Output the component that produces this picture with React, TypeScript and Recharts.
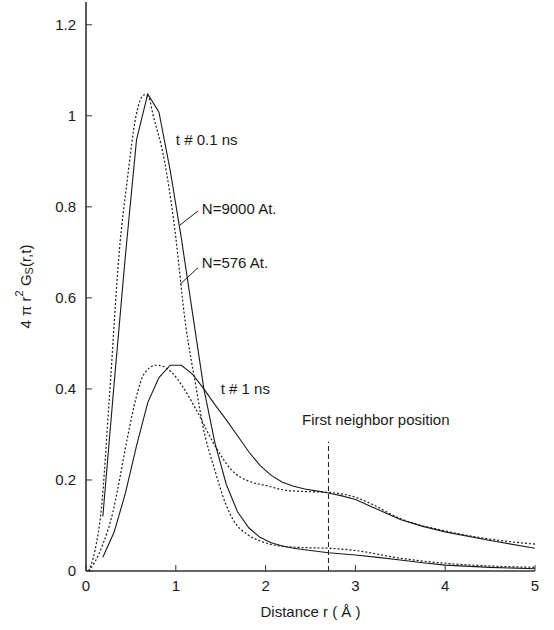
import { LineChart, Line, XAxis, YAxis, ReferenceLine, ReferenceDot } from 'recharts';

const FONT = '"Liberation Sans", Arial, Helvetica, sans-serif';

// t # 0.1 ns, N=9000 At. (solid)
const FAST_BIG_R = [0.1875, 0.3125, 0.4375, 0.5625, 0.6875, 0.8125, 0.9375, 1.0625, 1.1875, 1.3125, 1.4375, 1.5625, 1.6875, 1.8125, 1.9375, 2.0625, 2.1875, 2.3125, 2.5, 2.7, 3.0, 3.25, 3.5, 3.75, 4.0, 4.5, 5.0];
const FAST_BIG_G = [0.12, 0.41, 0.69, 0.947, 1.048, 1.008, 0.88, 0.73, 0.565, 0.4, 0.28, 0.19, 0.13, 0.095, 0.074, 0.062, 0.055, 0.05, 0.045, 0.04, 0.035, 0.03, 0.024, 0.018, 0.013, 0.008, 0.005];

// t # 0.1 ns, N=576 At. (dotted)
const FAST_SMALL_R = [0.03, 0.1, 0.17, 0.26, 0.37, 0.46, 0.557, 0.65, 0.7, 0.743, 0.872, 0.983, 1.11, 1.22, 1.3, 1.44, 1.55, 1.64, 1.8, 1.94, 2.2, 2.5, 2.7, 3.0, 3.5, 4.0, 4.5, 5.0];
const FAST_SMALL_G = [0, 0.045, 0.135, 0.38, 0.7, 0.86, 1.0, 1.046, 1.04, 1.005, 0.903, 0.76, 0.54, 0.41, 0.32, 0.218, 0.15, 0.112, 0.08, 0.066, 0.054, 0.051, 0.05, 0.045, 0.028, 0.017, 0.011, 0.008];

// t # 1 ns, N=9000 At. (solid)
const SLOW_BIG_R = [0.1875, 0.3125, 0.4375, 0.5625, 0.6875, 0.8125, 0.9375, 1.0625, 1.1875, 1.3125, 1.4375, 1.5625, 1.6875, 1.8125, 1.9375, 2.0625, 2.1875, 2.3125, 2.4375, 2.5625, 2.6875, 2.85, 3.0, 3.25, 3.5, 3.75, 4.0, 4.5, 5.0];
const SLOW_BIG_G = [0.03, 0.085, 0.17, 0.275, 0.37, 0.425, 0.452, 0.452, 0.432, 0.4, 0.365, 0.332, 0.297, 0.262, 0.232, 0.21, 0.195, 0.186, 0.18, 0.176, 0.172, 0.165, 0.157, 0.135, 0.113, 0.098, 0.086, 0.067, 0.05];

// t # 1 ns, N=576 At. (dotted)
const SLOW_SMALL_R = [0.03, 0.1, 0.19, 0.3, 0.353, 0.464, 0.557, 0.65, 0.78, 0.85, 0.947, 1.077, 1.225, 1.42, 1.62, 1.83, 2.0, 2.2, 2.38, 2.68, 3.0, 3.16, 3.5, 4.0, 4.5, 5.0];
const SLOW_SMALL_G = [0, 0.02, 0.06, 0.13, 0.18, 0.295, 0.38, 0.434, 0.452, 0.45, 0.438, 0.405, 0.355, 0.281, 0.222, 0.196, 0.188, 0.178, 0.175, 0.173, 0.162, 0.149, 0.115, 0.088, 0.07, 0.059];

const X_TICKS = [0, 1, 2, 3, 4, 5];
const Y_TICKS = [0, 0.2, 0.4, 0.6, 0.8, 1, 1.2];

const NOTE_TEXT = ['t # 0.1 ns', 'N=9000 At.', 'N=576 At.', 't # 1 ns', 'First neighbor position'];
const NOTE_X = [1.0, 1.29, 1.29, 1.5, 2.405];
const NOTE_Y = [0.947, 0.797, 0.677, 0.402, 0.332];

const NEIGHBOR_R = 2.7;
const NEIGHBOR_TOP = 0.284;

const toPoints = (rs: number[], gs: number[]) => rs.map((r, i) => ({ r, g: gs[i] }));

const fastBig = toPoints(FAST_BIG_R, FAST_BIG_G);
const fastSmall = toPoints(FAST_SMALL_R, FAST_SMALL_G);
const slowBig = toPoints(SLOW_BIG_R, SLOW_BIG_G);
const slowSmall = toPoints(SLOW_SMALL_R, SLOW_SMALL_G);

const INK = '#1a1a1a';
const FRAME = '#333';

function YTitle(props: any) {
  const vb = props.viewBox || { x: 0, y: 0, width: 86, height: 569 };
  const cx = vb.x + 25;
  const cy = vb.y + vb.height / 2;
  return (
    <text
      x={cx}
      y={cy}
      transform={`rotate(-90, ${cx}, ${cy})`}
      textAnchor="middle"
      dominantBaseline="central"
      fontFamily={FONT}
      fontSize={15}
      fill={INK}
    >
      <tspan>4 π r</tspan>
      <tspan dy={-6} fontSize={11}>2</tspan>
      <tspan dy={6}> G</tspan>
      <tspan dy={4} fontSize={11}>S</tspan>
      <tspan dy={-4}>(r,t)</tspan>
    </text>
  );
}

function XTitle(props: any) {
  const vb = props.viewBox || { x: 86, y: 571, width: 449, height: 59 };
  return (
    <text
      x={vb.x + vb.width / 2}
      y={vb.y + 46}
      textAnchor="middle"
      fontFamily={FONT}
      fontSize={15}
      fill={INK}
    >
      Distance r ( Å )
    </text>
  );
}

const noteShape = (text: string) => (p: any) => (
  <text x={p.cx} y={p.cy} dominantBaseline="central" fontFamily={FONT} fontSize={15} fill={INK}>
    {text}
  </text>
);

export default function App() {
  const tickStyle = { fill: INK, fontSize: 15, fontFamily: FONT };
  return (
    <div style={{ position: 'absolute', left: 0, top: 0, width: 554, height: 630, background: '#fff' }}>
      <LineChart width={554} height={630} margin={{ top: 2, right: 19, bottom: 0, left: 0 }}>
        <XAxis
          dataKey="r"
          type="number"
          domain={[0, 5]}
          ticks={X_TICKS}
          height={59}
          tickSize={-6}
          tickMargin={15}
          tick={tickStyle}
          tickFormatter={(v: number) => String(v)}
          axisLine={{ stroke: FRAME, strokeWidth: 1.6 }}
          tickLine={{ stroke: FRAME }}
          allowDataOverflow
          label={{ content: XTitle }}
        />
        <XAxis
          xAxisId="top"
          orientation="top"
          type="number"
          domain={[0, 5]}
          ticks={X_TICKS}
          height={0}
          tickSize={-6}
          tick={false}
          axisLine={{ stroke: FRAME, strokeWidth: 1.6 }}
          tickLine={{ stroke: FRAME }}
          allowDataOverflow
        />
        <YAxis
          type="number"
          domain={[0, 1.25]}
          ticks={Y_TICKS}
          width={86}
          tickSize={-6}
          tickMargin={16}
          tick={tickStyle}
          tickFormatter={(v: number) => String(v)}
          axisLine={{ stroke: FRAME, strokeWidth: 1.6 }}
          tickLine={{ stroke: FRAME }}
          allowDataOverflow
          label={{ content: YTitle }}
        />
        <YAxis
          yAxisId="right"
          orientation="right"
          type="number"
          domain={[0, 1.25]}
          ticks={Y_TICKS}
          width={0}
          tickSize={-6}
          tick={false}
          axisLine={{ stroke: FRAME, strokeWidth: 1.6 }}
          tickLine={{ stroke: FRAME }}
          allowDataOverflow
        />

        <Line data={fastSmall} dataKey="g" type="monotone" stroke={INK} strokeWidth={1.2} strokeDasharray="2 2" dot={false} activeDot={false} isAnimationActive={false} />
        <Line data={slowSmall} dataKey="g" type="monotone" stroke={INK} strokeWidth={1.2} strokeDasharray="2 2" dot={false} activeDot={false} isAnimationActive={false} />
        <Line data={fastBig} dataKey="g" type="linear" stroke={INK} strokeWidth={1.1} dot={false} activeDot={false} isAnimationActive={false} />
        <Line data={slowBig} dataKey="g" type="linear" stroke={INK} strokeWidth={1.1} dot={false} activeDot={false} isAnimationActive={false} />

        <ReferenceLine
          segment={[{ x: NEIGHBOR_R, y: 0 }, { x: NEIGHBOR_R, y: NEIGHBOR_TOP }]}
          stroke={INK}
          strokeWidth={1}
          strokeDasharray="5 3"
        />
        <ReferenceLine segment={[{ x: 1.047, y: 0.76 }, { x: 1.247, y: 0.791 }]} stroke={INK} strokeWidth={1} />
        <ReferenceLine segment={[{ x: 1.047, y: 0.63 }, { x: 1.247, y: 0.666 }]} stroke={INK} strokeWidth={1} />

        {NOTE_TEXT.map((t, i) => (
          <ReferenceDot key={t} x={NOTE_X[i]} y={NOTE_Y[i]} r={0} shape={noteShape(t)} />
        ))}
      </LineChart>
    </div>
  );
}
